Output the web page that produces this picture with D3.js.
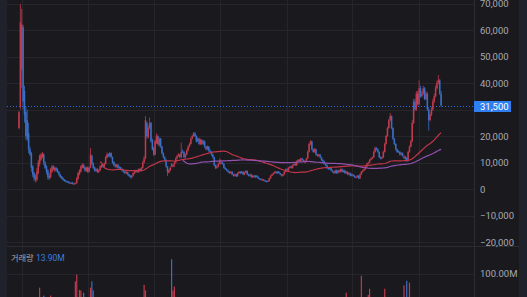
<!doctype html>
<html lang="ko">
<head>
  <meta charset="utf-8">
  <title>주가 차트</title>
  <style type="text/css">
    body{
      margin:0;
      background:#19191e;
    }
    svg{
      display:block;
    }
    text{
      font-family: Roboto, "Noto Sans CJK KR", sans-serif;
    }
    .grid line{
      stroke:#25252b;
      stroke-width:1;
    }
    .axis text{
      fill:#a8a9b0;
      font-size:9.5px;
    }
  </style>
</head>
<body>
  <div id="vis"></div>
  <script src="https://cdn.jsdelivr.net/npm/d3@7"></script>
  <script type="text/javascript">

    // prices in thousands of won, one entry per session
    var opens = [23,31,45,61,37,29,26,21,15,13.5,
      8.5,6,4.5,3.5,6,9.5,11,12,13,10,
      8.5,7,5,4.5,6.5,8.5,7,8,7.5,6.5,
      5.5,4.8,4.2,3.6,3.2,2.9,2.8,2.5,2.0,2.4,
      1.8,2.0,2.2,3.8,5.5,6.5,8,9.2,8.2,6.8,
      8.2,6.5,8,12.5,9.8,8.2,6.8,7.6,6.4,7,
      8.2,9.2,8.5,9.5,11.8,13.2,12.3,13.6,12,10.2,
      9.2,8.4,9.2,8.4,8.2,7.6,7.2,6.6,5.9,6.4,
      5.6,5.1,4.4,5,5.8,6.4,7.1,6.4,7.6,6.9,
      8,10,11.5,25,19.5,23,25,18.5,15.5,13,
      17.5,20,16.5,19,16,13.5,12,11,8.5,6.2,
      7,9.3,8.5,9,10,11.5,12.5,13,12,14.2,
      14,12,13,14.5,16,17,19,20,21,20,
      18,19,17,18.5,17,18,16,15,16,14.5,
      14,13,12,9,8,8.5,9.5,9.6,10,9.5,
      8,7.5,7,6.5,6,6.5,5.5,5,5.5,4.8,
      6,6.5,6,6.5,5.5,6.2,6.8,5.5,5,5.5,
      4.5,5,4.5,5,4.5,4,3.8,3.5,3.6,3.2,
      3,2.8,3,4,5,5.5,6,6.5,6,6.5,
      6,5.5,5,5.5,6.5,7.5,7,8,8.5,8,
      9,9.5,9,10.5,11,10.5,11.5,11,10,10.5,
      11.5,14,17,18,15,14,15,13,12.5,13,
      12,11,10.5,9.5,9,8,7.5,8,7,6.5,
      6,7,6,7,6.5,7.5,6.5,7,6,6.5,
      5.5,6,5,5.5,5,4.3,4.5,5,4,5.5,
      6.5,7,7.5,8.5,9.5,10,11,11.5,12,14,
      15.5,15,14,12,11.5,12,14,17,20,23,
      26,27.5,23,19,17,15,14.2,14,13,13.5,
      11.6,12.2,11.8,10.6,14,16,18,25,33,30,
      36,32,38,35,36,38,34,36,30,26,
      28,30,33,35,38,40,41,36];

    var closes = [29,63,62,33,28,20,19,15,13,8,
      5.5,4,3.5,6.5,10,12.5,13,13.5,10,8,
      6.5,4.5,4,7.5,8.5,7.5,8,7,6.5,5.5,
      4.5,4,3.5,3,2.8,2.6,2.4,2.2,2.3,2,
      2.1,2.2,4,6,7,8.5,9,8,7,8,
      6.5,8,13,9.5,8,7,7.5,6.5,7,8.5,
      9,8.5,9.5,12,13,12.5,13.5,12,10,9,
      8.5,9,8,8,7.5,7,6.5,6,6.5,5.5,
      5,4.5,5,6,6.5,7,6.5,7.5,7,8,
      10,11.5,26,20,23,25,18,15,13,18,
      20,17,19,16,13.5,12,11,8.5,6.5,7,
      8,8.5,9,10,11.5,12.5,13,12,14,14,
      12,13,14.5,16,17,19,20,21,20,18,
      19,17,18.5,17,18,16,15,16,14.5,14,
      13,12,9,8,8.5,9.5,11,10,9.5,8,
      7.5,7,6.5,6,6.5,5.5,5,5.5,4.8,6,
      6.5,6,6.5,5.5,6.2,6.8,5.5,5,5.5,4.5,
      5,4.5,5,4.5,4,3.8,3.5,3.6,3.2,3,
      2.8,3,4,5,5.5,6,6.5,6,6.5,6,
      5.5,5,5.5,6.5,7.5,7,8,8.5,8,9,
      9.5,9,10.5,11,10.5,11.5,11,10.5,10.5,11.5,
      14,17,18,15,14,15,13,12.5,13,12,
      11,10.5,9.5,9,8,7.5,8,7,6.5,6,
      7,6,7,6.5,7.5,6.5,7,6,6.5,5.5,
      6,5,5.5,5,4.5,4.5,5,4,5.5,6.5,
      7,7.5,8.5,9.5,10,11,11.5,12,14,15.5,
      15,14,12,11.5,12,14,17,20,23,26,
      27.5,23,19,17,15,14,14,13,13.5,12.5,
      12.2,11.4,10.6,14,16,18,25,33,30,36,
      32,38,35,36,38,34,36,30,26,28,
      30,33,35,38,40,41,36,31.5];

    var highs = [29.5,69.8,68,62,39,31,30,25,16,14,
      9,6.5,5.5,8,11,13,13.5,14,13.5,10.5,
      9,7.5,6,8,9,9,8.5,8.3,7.8,6.8,
      5.8,5,4.4,3.8,3.4,3.1,3,2.7,2.6,2.6,
      2.4,2.5,4.5,6.5,7.5,9,9.8,9.5,8.5,8.5,
      8.5,8.5,15.5,13,10,8.5,8,7.8,7.5,9,
      9.5,9.5,10,12.5,13.8,13.5,14,13.8,12.3,10.5,
      9.5,9.5,9.4,8.6,8.4,7.8,7.4,6.8,6.8,6.6,
      5.8,5.3,5.3,6.3,6.8,7.3,7.3,7.8,7.8,8.3,
      10.5,12.5,27.5,25.5,24,27,25.2,19,16,18.5,
      21,20.5,19.5,19.3,16.3,13.8,12.3,11.2,8.7,7.5,
      8.5,9.8,9.5,10.5,12,13,13.5,13.3,17.5,15,
      14.3,13.5,15,16.5,17.5,19.5,20.5,21.5,21.5,20.3,
      19.5,19.3,19,18.8,18.5,18.3,16.3,16.5,16.2,15,
      14.3,13.3,12.2,9.3,9,10,11.5,11,10.3,9.7,
      8.3,7.8,7.3,6.8,6.8,6.8,5.8,5.8,5.8,6.3,
      6.8,6.8,6.8,6.8,6.5,7.2,7,5.8,5.8,5.7,
      5.3,5.3,5.3,5.3,4.8,4.2,4,3.9,3.8,3.4,
      3.2,3.3,4.3,5.3,5.8,6.3,6.8,6.8,6.8,6.8,
      6.2,5.7,5.8,6.8,7.8,7.8,8.3,8.8,8.8,9.3,
      9.8,9.8,10.8,11.3,11.3,11.8,11.8,11.2,10.8,11.8,
      14.5,17.5,18.5,18.2,15.3,15.5,15.2,13.3,13.3,13.2,
      12.2,11.3,10.7,9.8,9.3,8.2,8.3,8.2,7.3,6.8,
      7.3,7.3,7.3,7.3,7.8,7.8,7.3,7.3,6.8,6.7,
      6.3,6.2,5.8,5.7,5.3,4.8,5.3,5.2,5.8,6.8,
      7.3,7.8,8.8,9.8,10.3,11.3,11.8,12.3,14.5,16,
      15.8,15.3,14.2,12.3,12.3,14.5,17.5,20.5,23.5,26.5,
      28.7,27.8,23.3,19.3,17.3,15.3,14.6,14.3,14,13.8,
      12.8,12.5,12,14.5,16.5,18.5,26,34,34,37,
      37,41,39,37,39,38.5,37,36.5,31,29,
      31,34,36,39,41,43,41.5,37];

    var lows = [22.5,30,38,30,25,18.5,18,13.5,12.5,6.5,
      4.5,3,2.5,2.8,5.5,8.5,10.5,11.5,9,7.5,
      5.5,3.5,3.5,4,6,7,6.5,6.5,6,5,
      4.2,3.7,3.2,2.8,2.5,2.3,2.1,1.9,1.8,1.7,
      1.5,1.8,2,3.5,5.2,6.2,7.7,7.7,6.5,6.5,
      6,6.2,7.8,9,7.5,6.5,6.5,6,6,6.8,
      8,8,8.2,9.2,11.5,12,12,11.5,9.5,8.6,
      8,8,7.6,7.6,7.1,6.6,6.1,5.6,5.6,5.1,
      4.6,4,4,4.7,5.6,6.1,6.1,6.1,6.6,6.6,
      7.7,9.6,11.2,19,19,22.5,17.5,14.5,12.5,12.7,
      17,16.5,16,15.5,13,11.5,10.5,8,5,5.9,
      6.7,8.2,8.2,8.2,9.7,11.2,12.2,11.6,11.6,13.5,
      11.5,11.6,12.7,14.2,15.7,16.7,18.7,19.7,19.5,17.5,
      17.6,16.5,16.6,16.5,16.6,15.5,14.5,14.6,14,13.5,
      12.5,11.5,8.5,7.5,7.6,8.2,9.2,9.3,9.2,7.7,
      7.2,6.7,6.2,5.7,5.8,5.2,4.7,4.7,4.5,4.6,
      5.7,5.7,5.7,5.2,5.2,5.9,5.2,4.7,4.7,4.2,
      4.2,4.2,4.2,4.2,3.7,3.5,3.2,3.2,2.9,2.7,
      2.5,2.6,2.8,3.8,4.8,5.2,5.8,5.7,5.7,5.7,
      5.2,4.7,4.7,5.2,6.2,6.7,6.7,7.7,7.7,7.7,
      8.7,8.7,8.7,10.2,10.2,10.2,10.7,10.2,9.7,10.2,
      11.2,13.7,16.5,14.5,13.6,13.7,12.6,12.2,12.2,11.6,
      10.6,10.2,9.2,8.6,7.6,7.2,7.2,6.7,6.2,5.7,
      5.8,5.7,5.8,6.2,6.2,6.2,6.2,5.7,5.7,5.2,
      5.2,4.7,4.8,4.7,4.2,4.1,4.3,3.7,3.8,5.2,
      6.2,6.7,7.2,8.2,9.2,9.7,10.7,11.2,11.7,13.7,
      14.5,13.6,11.6,11.2,11.2,11.7,13.7,16.7,19.7,22.7,
      25.5,22.5,18.5,16.5,14.5,13.6,13.6,12.6,12.6,12.2,
      11.4,11,10.2,10.4,13.7,15.7,17.7,24.5,29.5,29.5,
      31.5,31.5,34.5,34.5,35.5,33.5,33.5,29.5,22,25.5,
      27.5,29.5,32.5,34.5,37.5,39.5,35.5,31];

    // volume in millions of shares
    var volumes = [45,55,50,48,40,35,30,28,25,30,
      25,20,18,35,45,75,40,35,61,25,
      20,22,18,61,30,20,18,15,14,12,
      12,10,9,8,8,7,7,6,8,9,
      12,86,98,50,71,70,40,66,30,25,
      22,35,75,86,70,30,20,18,15,25,
      20,15,25,45,40,30,35,30,25,18,
      15,14,12,10,10,9,9,8,8,7,
      7,8,8,10,12,12,10,14,10,15,
      30,80,70,55,45,50,40,30,25,45,
      40,30,30,25,20,15,12,18,20,15,
      20,125,70,77,40,35,30,25,45,30,
      20,18,25,30,30,35,35,40,25,20,
      20,18,20,15,15,14,12,12,10,10,
      10,12,15,12,10,12,18,12,10,10,
      8,8,7,7,6,6,6,5,6,8,
      7,6,6,6,7,7,6,5,5,5,
      5,4,5,4,4,4,3,3,3,3,
      3,4,8,12,10,9,8,6,6,5,
      5,4,5,7,9,7,10,9,8,10,
      9,8,14,12,9,12,9,8,8,12,
      35,50,40,30,20,18,15,12,12,10,
      10,9,9,8,8,7,7,7,6,6,
      8,7,8,7,9,7,8,7,66,8,
      8,7,7,6,6,6,7,6,20,96,
      30,25,35,40,62,73,40,35,55,50,
      30,25,25,20,18,40,73,55,50,50,
      45,40,30,25,20,18,15,15,14,14,
      79,30,87,40,84,50,55,50,45,40,
      35,40,30,25,25,22,20,30,35,25,
      20,22,25,30,28,30,25,13.9];

    var priceTicks = [-20,-10,0,10,20,30,40,50,60,70],
      volumeTicks = [100],
      gridIdx = [2,50,98,146,195,242,291],
      maPeriods = [60,120],
      lastPrice = 31.5,
      volumeLabel = '거래량',
      volumeValue = '13.90M';

    var width = 527,
      height = 297,
      left = 7,
      axisX = 474,
      rightEdge = 519,
      split = 246;

    var upColor = '#c23a4c',
      downColor = '#3a6fc6',
      maColors = ['#c2354a','#9151ad'];

    var svg = d3.select('#vis').append('svg')
      .attr('width', width)
      .attr('height', height);

    svg.append('rect').attr('width', width).attr('height', height).attr('fill', '#19191e');
    svg.append('rect').attr('x', 0).attr('width', left).attr('height', height).attr('fill', '#1f222a');
    svg.append('rect').attr('x', rightEdge).attr('width', width - rightEdge).attr('height', height).attr('fill', '#1f222a');

    var x = d3.scaleLinear().domain([0, closes.length - 1]).range([19, 441.1]);
    var y = d3.scaleLinear().domain([0, 70]).range([189, 3.5]);
    var yv = d3.scaleLinear().domain([0, 100]).range([330, 273.5]);

    var defs = svg.append('defs');
    defs.append('clipPath').attr('id', 'clipMain')
      .append('rect').attr('x', left).attr('y', 0).attr('width', axisX - left).attr('height', split);
    defs.append('clipPath').attr('id', 'clipVol')
      .append('rect').attr('x', left).attr('y', split).attr('width', axisX - left).attr('height', height - split);

    // grid
    var grid = svg.append('g').attr('class', 'grid');
    grid.selectAll('.hp').data(priceTicks).enter().append('line')
      .attr('x1', left).attr('x2', axisX)
      .attr('y1', function(d){ return Math.round(y(d)) + 0.5; })
      .attr('y2', function(d){ return Math.round(y(d)) + 0.5; });
    grid.selectAll('.hv').data(volumeTicks).enter().append('line')
      .attr('x1', left).attr('x2', axisX)
      .attr('y1', function(d){ return Math.round(yv(d)) + 0.5; })
      .attr('y2', function(d){ return Math.round(yv(d)) + 0.5; });
    grid.selectAll('.vx').data(gridIdx).enter().append('line')
      .attr('x1', function(d){ return Math.round(x(d)) + 0.5; })
      .attr('x2', function(d){ return Math.round(x(d)) + 0.5; })
      .attr('y1', 0).attr('y2', height);

    // pane borders
    svg.append('line').attr('x1', left).attr('x2', rightEdge)
      .attr('y1', split + 0.5).attr('y2', split + 0.5)
      .attr('stroke', '#2c2d34');
    svg.append('line').attr('x1', axisX + 0.5).attr('x2', axisX + 0.5)
      .attr('y1', 0).attr('y2', height)
      .attr('stroke', '#2c2d34');

    var candles = closes.map(function(c, i){
      return {i:i, o:opens[i], c:c, h:highs[i], l:lows[i], v:volumes[i]};
    });

    function colorOf(d){ return d.c >= d.o ? upColor : downColor; }

    var main = svg.append('g').attr('clip-path', 'url(#clipMain)');

    // current price line
    main.append('line')
      .attr('x1', left).attr('x2', axisX)
      .attr('y1', Math.round(y(lastPrice)) + 0.5).attr('y2', Math.round(y(lastPrice)) + 0.5)
      .attr('stroke', '#2b6be0')
      .attr('stroke-width', 1)
      .attr('stroke-dasharray', '1,2');

    var cg = main.append('g');
    cg.selectAll('line').data(candles).enter().append('line')
      .attr('x1', function(d){ return x(d.i); })
      .attr('x2', function(d){ return x(d.i); })
      .attr('y1', function(d){ return y(Math.max(d.h, d.o, d.c)); })
      .attr('y2', function(d){ return y(Math.min(d.l, d.o, d.c)); })
      .attr('stroke', colorOf)
      .attr('stroke-width', 0.8);
    cg.selectAll('rect').data(candles).enter().append('rect')
      .attr('x', function(d){ return x(d.i) - 0.75; })
      .attr('width', 1.5)
      .attr('y', function(d){ return y(Math.max(d.o, d.c)); })
      .attr('height', function(d){ return Math.max(1, Math.abs(y(d.o) - y(d.c))); })
      .attr('fill', colorOf);

    // moving averages
    maPeriods.forEach(function(n, k){
      var pts = [];
      candles.forEach(function(d, i){
        if(i >= n - 1){
          pts.push([i, d3.mean(closes.slice(i - n + 1, i + 1))]);
        }
      });
      main.append('path')
        .datum(pts)
        .attr('fill', 'none')
        .attr('stroke', maColors[k])
        .attr('stroke-width', 1.2)
        .attr('d', d3.line().x(function(p){ return x(p[0]); }).y(function(p){ return y(p[1]); }));
    });

    // volume
    var vol = svg.append('g').attr('clip-path', 'url(#clipVol)');
    vol.selectAll('rect').data(candles).enter().append('rect')
      .attr('x', function(d){ return x(d.i) - 0.6; })
      .attr('width', 1.2)
      .attr('y', function(d){ return yv(d.v); })
      .attr('height', function(d){ return yv(0) - yv(d.v); })
      .attr('fill', colorOf);

    // axes (the tick under the price tag is hidden, as in the source)
    var fmt = d3.format(',');
    var yAxis = d3.axisRight(y)
      .tickValues(priceTicks.filter(function(t){ return Math.abs(y(t) - y(lastPrice)) > 8; }))
      .tickSize(0)
      .tickPadding(6)
      .tickFormat(function(d){ return fmt(d * 1000); });
    var ax = svg.append('g').attr('class', 'axis')
      .attr('transform', 'translate(' + axisX + ',0)')
      .call(yAxis);
    ax.select('.domain').remove();

    var vAxis = d3.axisRight(yv)
      .tickValues(volumeTicks)
      .tickSize(0)
      .tickPadding(6)
      .tickFormat(function(d){ return d3.format('.2f')(d) + 'M'; });
    var vax = svg.append('g').attr('class', 'axis')
      .attr('transform', 'translate(' + axisX + ',0)')
      .call(vAxis);
    vax.select('.domain').remove();

    // price tag
    svg.append('rect')
      .attr('x', axisX).attr('y', Math.round(y(lastPrice)) - 5)
      .attr('width', 37).attr('height', 11)
      .attr('fill', '#2f7ff0');
    svg.append('text')
      .attr('x', axisX + 6).attr('y', Math.round(y(lastPrice)) + 0.5)
      .attr('dy', '0.35em')
      .attr('fill', '#ffffff')
      .style('font-size', '9.5px')
      .text(fmt(lastPrice * 1000));

    // volume header
    svg.append('text')
      .attr('x', 11).attr('y', 260.5)
      .attr('fill', '#a8a9b0')
      .style('font-size', '8.2px')
      .style('font-family', '"Noto Sans CJK KR", sans-serif')
      .text(volumeLabel);
    svg.append('text')
      .attr('x', 36).attr('y', 260.5)
      .attr('fill', '#3b7de0')
      .style('font-size', '8.5px')
      .text(volumeValue);

  </script>
</body>
</html>
